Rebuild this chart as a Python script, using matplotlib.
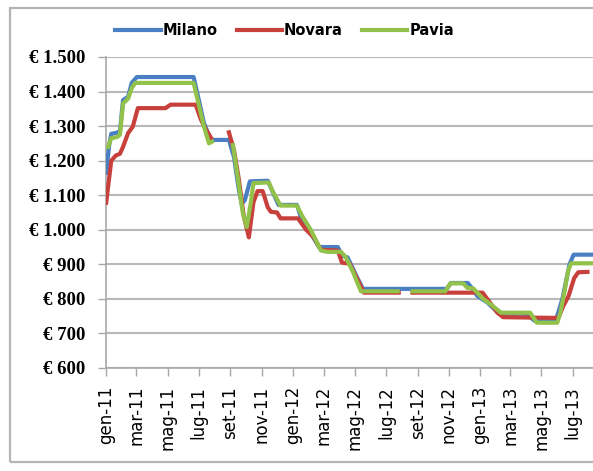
import numpy as np
import pandas as pd
import matplotlib
matplotlib.use("Agg")
import matplotlib.pyplot as plt
import matplotlib.dates as mdates
from matplotlib.patches import Rectangle

# prezzi medi (EUR) per provincia, punti di variazione
milano_dates = [
    "2011-01-01", "2011-01-07", "2011-01-11", "2011-01-20", "2011-01-28", "2011-02-03",
    "2011-02-13", "2011-02-20", "2011-03-02", "2011-06-21", "2011-06-29", "2011-07-11",
    "2011-07-23", "2011-07-29", "2011-08-29", "2011-09-08", "2011-09-17", "2011-09-23",
    "2011-09-29", "2011-10-09", "2011-11-13", "2011-11-21", "2011-12-04", "2012-01-09",
    "2012-01-16", "2012-02-01", "2012-02-21", "2012-03-29", "2012-04-06", "2012-04-17",
    "2012-05-03", "2012-05-17", "2012-10-28", "2012-11-05", "2012-12-08", "2012-12-14",
    "2012-12-27", "2013-01-15", "2013-02-04", "2013-02-19", "2013-04-03", "2013-04-17",
    "2013-05-18", "2013-05-30", "2013-06-11", "2013-06-25", "2013-07-03", "2013-08-11",
]
milano_prices = [
    1165, 1245, 1278, 1280, 1285, 1375,
    1385, 1425, 1442, 1442, 1390, 1310,
    1265, 1260, 1260, 1210, 1120, 1075,
    1085, 1140, 1142, 1115, 1072, 1072,
    1040, 1000, 950, 950, 925, 920,
    870, 829, 829, 846, 846, 835,
    808, 790, 762, 757, 757, 737,
    737, 742, 800, 900, 928, 928,
]

novara_dates = [
    "2011-01-01", "2011-01-11", "2011-01-20", "2011-01-28", "2011-02-03", "2011-02-13",
    "2011-02-22", "2011-03-04", "2011-04-27", "2011-05-07", "2011-06-25", "2011-07-05",
    "2011-07-15", "2011-07-25", "2011-08-10", "2011-08-29", "2011-09-08", "2011-09-17",
    "2011-09-27", "2011-10-07", "2011-10-16", "2011-10-24", "2011-11-03", "2011-11-13",
    "2011-11-19", "2011-12-01", "2011-12-08", "2012-01-11", "2012-01-27", "2012-02-11",
    "2012-02-25", "2012-03-29", "2012-04-06", "2012-04-21", "2012-05-05", "2012-05-19",
    "2012-07-26", "2012-08-05", "2012-08-22", "2013-01-06", "2013-01-20", "2013-02-04",
    "2013-02-15", "2013-05-24", "2013-06-03", "2013-06-13", "2013-06-23", "2013-07-04",
    "2013-07-12", "2013-07-30",
]
novara_prices = [
    1078, 1200, 1215, 1220, 1240, 1280,
    1298, 1352, 1352, 1362, 1362, 1320,
    1290, 1266, np.nan, 1282, 1230, 1150,
    1040, 978, 1080, 1112, 1112, 1065,
    1052, 1050, 1033, 1033, 1000, 978,
    942, 940, 905, 902, 860, 818,
    818, np.nan, 818, 818, 790, 760,
    747, 745, 745, 780, 808, 860,
    877, 878,
]

pavia_dates = [
    "2011-01-05", "2011-01-11", "2011-01-22", "2011-01-28", "2011-02-03", "2011-02-13",
    "2011-02-20", "2011-02-27", "2011-06-21", "2011-06-29", "2011-07-11", "2011-07-21",
    "2011-07-27", "2011-08-15", "2011-09-06", "2011-09-15", "2011-09-25", "2011-10-03",
    "2011-10-11", "2011-10-16", "2011-11-15", "2011-11-23", "2011-12-08", "2012-01-09",
    "2012-01-20", "2012-02-05", "2012-02-25", "2012-03-09", "2012-04-04", "2012-04-13",
    "2012-04-27", "2012-05-13", "2012-07-24", "2012-08-05", "2012-08-22", "2012-10-25",
    "2012-11-04", "2012-11-29", "2012-12-07", "2012-12-19", "2013-01-07", "2013-01-23",
    "2013-02-11", "2013-04-09", "2013-04-22", "2013-06-01", "2013-06-07", "2013-06-15",
    "2013-06-22", "2013-06-28", "2013-08-11",
]
pavia_prices = [
    1240, 1265, 1268, 1275, 1365, 1380,
    1410, 1425, 1425, 1375, 1300, 1250,
    1255, np.nan, 1245, 1155, 1050, 1008,
    1080, 1135, 1137, 1110, 1070, 1070,
    1038, 1000, 940, 936, 936, 922,
    880, 822, 822, np.nan, 822, 822,
    845, 845, 832, 830, 800, 783,
    760, 760, 731, 731, 760, 820,
    880, 903, 903,
]

series = [
    ("Milano", milano_dates, milano_prices, "#4a7fc4"),
    ("Novara", novara_dates, novara_prices, "#c8403b"),
    ("Pavia", pavia_dates, pavia_prices, "#92c24a"),
]

mesi = ["gen", "feb", "mar", "apr", "mag", "giu",
        "lug", "ago", "set", "ott", "nov", "dic"]
y_ticks = [600, 700, 800, 900, 1000, 1100, 1200, 1300, 1400, 1500]


def euro(v, pos=None):
    return "€ " + f"{int(v):,}".replace(",", ".")


def mese_anno(x, pos=None):
    d = mdates.num2date(x)
    return f"{mesi[d.month - 1]}-{d.year % 100:02d}"


fig = plt.figure(figsize=(5.93, 4.71), dpi=100)
fig.patch.set_facecolor("white")

# cornice esterna del grafico
fig.patches.append(Rectangle((0.017, 0.019), 1.1, 0.964, transform=fig.transFigure,
                             fill=False, edgecolor="#b4b4b4", lw=1.6))

ax = fig.add_axes([0.179, 0.2187, 0.822, 0.6603])

for name, dates, prices, color in series:
    ax.plot(pd.to_datetime(dates), prices, color=color, lw=3.0,
            solid_joinstyle="round", label=name, zorder=3)

ax.set_xlim(pd.Timestamp("2011-01-01"), pd.Timestamp("2013-08-11"))
ax.set_ylim(600, 1500)
ax.set_yticks(y_ticks)
ax.yaxis.set_major_formatter(plt.FuncFormatter(euro))
ax.xaxis.set_major_locator(mdates.MonthLocator(bymonth=[1, 3, 5, 7, 9, 11]))
ax.xaxis.set_major_formatter(plt.FuncFormatter(mese_anno))

ax.grid(axis="y", color="#b8b8b8", lw=1.5, zorder=0)
ax.grid(axis="x", visible=False)
for side in ("top", "right"):
    ax.spines[side].set_visible(False)
for side in ("left", "bottom"):
    ax.spines[side].set_color("#a8a8a8")
    ax.spines[side].set_linewidth(1.2)

ax.tick_params(axis="y", length=6, width=1, color="#a8a8a8", pad=9)
ax.tick_params(axis="x", length=6, width=1, color="#a8a8a8", pad=7)
for lab in ax.get_yticklabels():
    lab.set_fontfamily("Liberation Serif")
    lab.set_fontweight("bold")
    lab.set_fontsize(13.5)
for lab in ax.get_xticklabels():
    lab.set_fontfamily("DejaVu Sans")
    lab.set_fontsize(12)
    lab.set_rotation(90)

fig.legend(loc="center", bbox_to_anchor=(0.48, 0.936), ncol=3, frameon=False,
           handlelength=3.1, handletextpad=0.15, columnspacing=1.3,
           prop={"family": "DejaVu Sans", "weight": "bold", "size": 10.5})

fig.savefig("out.png", dpi=100, facecolor="white")
